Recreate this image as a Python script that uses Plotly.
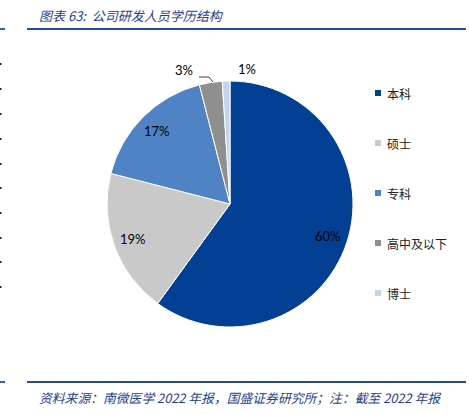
import math
import plotly.graph_objects as go

categories = ["本科", "硕士", "专科", "高中及以下", "博士"]
values = [60, 19, 17, 3, 1]
colors = ["#033f93", "#c9c9c9", "#4f83c6", "#8f8f8f", "#c3d4ec"]
title_text = "图表 63:  公司研发人员学历结构"
source_text = "资料来源：南微医学 2022 年报，国盛证券研究所；注：截至 2022 年报"

W, H = 469, 414
def px(x):
    return x / W
def py(y):
    return 1 - y / H

CX, CY, R = 230, 204, 123

fig = go.Figure()
fig.add_trace(go.Pie(
    labels=categories,
    values=values,
    sort=False,
    direction="clockwise",
    rotation=0,
    marker=dict(colors=colors, line=dict(color="white", width=1)),
    textinfo="none",
    domain=dict(x=[px(CX - R), px(CX + R)], y=[py(CY + R), py(CY - R)]),
    showlegend=False,
    hoverinfo="label+percent",
))

shapes = []
annotations = []
lab_font = dict(family="Lato, Open Sans, sans-serif", size=13, color="black")

# percentage labels derived from the slice angles
total = sum(values)
cum = 0
for v in values:
    mid = (cum + v / 2) / total * 2 * math.pi
    cum += v
    pct = f"{round(v / total * 100)}%"
    if v / total >= 0.05:
        x = CX + 0.84 * R * math.sin(mid)
        y = CY - 0.84 * R * math.cos(mid)
        annotations.append(dict(text=pct, xref="paper", yref="paper", x=px(x), y=py(y),
                                xanchor="center", yanchor="middle", showarrow=False, font=lab_font))
# small slices: outside labels
annotations.append(dict(text=f"{values[3]}%", xref="paper", yref="paper", x=px(184), y=py(70),
                        xanchor="center", yanchor="middle", showarrow=False, font=lab_font))
annotations.append(dict(text=f"{values[4]}%", xref="paper", yref="paper", x=px(247), y=py(69),
                        xanchor="center", yanchor="middle", showarrow=False, font=lab_font))
shapes.append(dict(type="path", xref="paper", yref="paper",
                   path=f"M {px(199)} {py(77)} L {px(209)} {py(77)} L {px(213)} {py(82)}",
                   line=dict(color="#404040", width=1)))

# header/footer rules
for yy in (29, 382):
    shapes.append(dict(type="line", xref="paper", yref="paper", x0=0, x1=px(5), y0=py(yy), y1=py(yy),
                       line=dict(color="#1f4e9c", width=1.8)))
    shapes.append(dict(type="line", xref="paper", yref="paper", x0=px(27), x1=px(466), y0=py(yy), y1=py(yy),
                       line=dict(color="#1f4e9c", width=1.8)))

# small edge marks from the page
for yy in (64, 89, 114, 139, 164, 188, 213, 238, 262, 287):
    shapes.append(dict(type="rect", xref="paper", yref="paper", x0=0, x1=px(1.5),
                       y0=py(yy + 1), y1=py(yy - 1), fillcolor="#222222", line=dict(width=0)))

annotations.append(dict(text="<i>" + title_text + "</i>", xref="paper", yref="paper", x=px(37), y=py(15),
                        xanchor="left", yanchor="middle", showarrow=False,
                        font=dict(family="Noto Sans CJK SC, sans-serif", size=13, color="#1f3f8f")))
annotations.append(dict(text="<i>" + source_text + "</i>", xref="paper", yref="paper", x=px(37), y=py(397),
                        xanchor="left", yanchor="middle", showarrow=False,
                        font=dict(family="Noto Sans CJK SC, sans-serif", size=12.8, color="#1f3f8f")))

# manual legend
for i, (cat, col) in enumerate(zip(categories, colors)):
    yc = 93 + 50 * i
    shapes.append(dict(type="rect", xref="paper", yref="paper", x0=px(375), x1=px(381),
                       y0=py(yc + 3), y1=py(yc - 3), fillcolor=col, line=dict(width=0)))
    annotations.append(dict(text=cat, xref="paper", yref="paper", x=px(385), y=py(yc),
                            xanchor="left", yanchor="middle", showarrow=False,
                            font=dict(family="Noto Sans CJK SC, sans-serif", size=12, color="#222222")))

fig.update_layout(
    width=W, height=H,
    margin=dict(l=0, r=0, t=0, b=0),
    paper_bgcolor="white", plot_bgcolor="white",
    shapes=shapes, annotations=annotations,
)

fig.write_html("out.html", config={"displayModeBar": False},
               post_script="document.body.style.margin='0';")
